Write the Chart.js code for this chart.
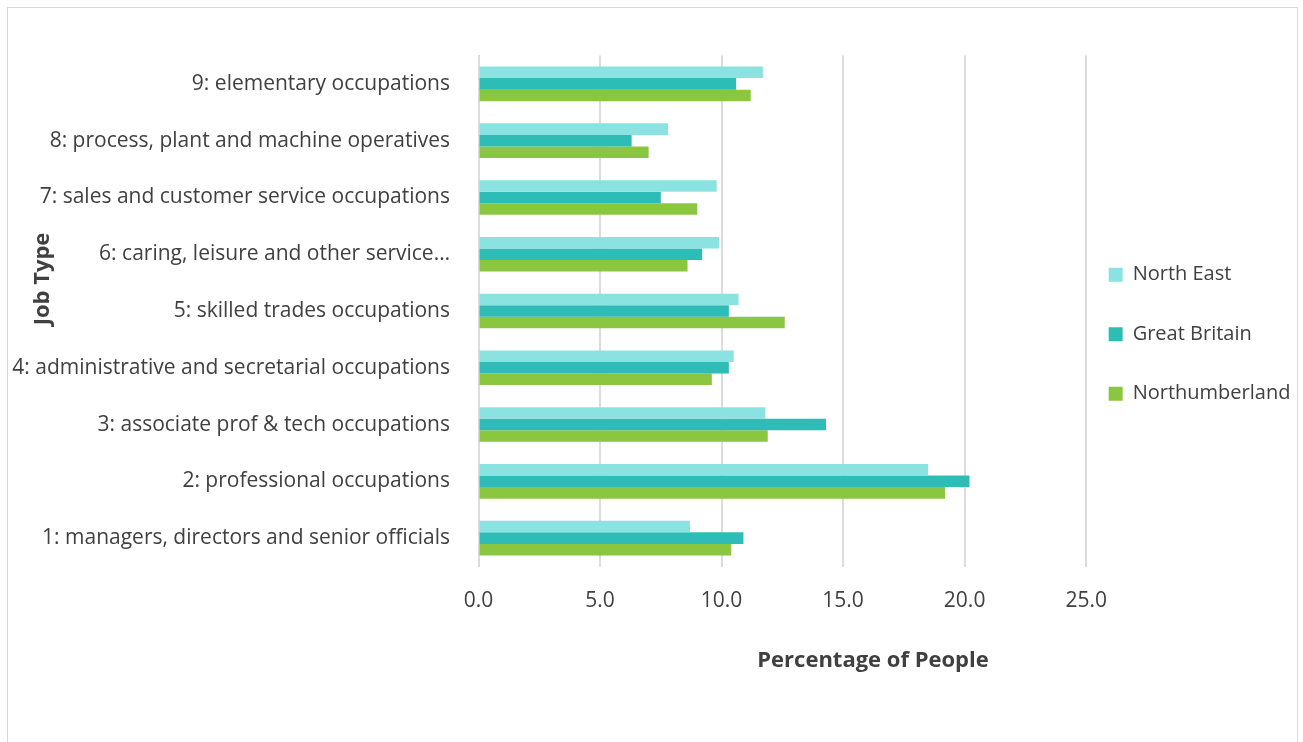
<!DOCTYPE html>
<html lang="en">
<head>
    <meta charset="UTF-8">
    <title>Job Type by Area</title>
    <script src="https://cdn.jsdelivr.net/npm/chart.js"></script>
    <style>
        body {
            margin: 0;
            background: #ffffff;
        }
        #frame {
            position: absolute;
            left: 7px;
            top: 7px;
            width: 1289px;
            height: 760px;
            border: 1px solid #d9d9d9;
        }
        #chartBox {
            position: absolute;
            left: 0;
            top: 0;
            width: 1289px;
            height: 734px;
        }
    </style>
</head>
<body>
<div id="frame">
    <div id="chartBox"><canvas id="jobChart"></canvas></div>
</div>

<script>
    // categories, bottom (1) to top (9)
    const jobTypes = [
        '1: managers, directors and senior officials',
        '2: professional occupations',
        '3: associate prof & tech occupations',
        '4: administrative and secretarial occupations',
        '5: skilled trades occupations',
        '6: caring, leisure and other service…',
        '7: sales and customer service occupations',
        '8: process, plant and machine operatives',
        '9: elementary occupations'
    ];

    // percentage of people, same order as jobTypes
    const northEast     = [8.7, 18.5, 11.8, 10.5, 10.7, 9.9, 9.8, 7.8, 11.7];
    const greatBritain  = [10.9, 20.2, 14.3, 10.3, 10.3, 9.2, 7.5, 6.3, 10.6];
    const northumberland = [10.4, 19.2, 11.9, 9.6, 12.6, 8.6, 9.0, 7.0, 11.2];

    const xTicks = [0, 5, 10, 15, 20, 25];

    const textColor = '#404040';
    const fontName = '"Open Sans", sans-serif';

    // axis titles sit off-centre in the original, so draw them by hand
    const axisTitles = {
        id: 'axisTitles',
        afterDraw(chart) {
            const ctx = chart.ctx;
            ctx.save();
            ctx.fillStyle = textColor;
            ctx.font = 'bold 22px ' + fontName;
            ctx.textAlign = 'center';
            ctx.textBaseline = 'middle';
            ctx.fillText('Percentage of People', 865, 653);
            ctx.translate(35, 271);
            ctx.rotate(-Math.PI / 2);
            ctx.fillText('Job Type', 0, 0);
            ctx.restore();
        }
    };

    // pull the legend a little closer to the plot
    const legendShift = {
        id: 'legendShift',
        afterLayout(chart) {
            chart.legend.left -= 17;
            chart.legend.right -= 17;
        }
    };

    const ctx = document.getElementById('jobChart').getContext('2d');
    new Chart(ctx, {
        type: 'bar',
        data: {
            labels: jobTypes,
            datasets: [{
                label: 'North East',
                data: northEast,
                backgroundColor: '#8ae3e0'
            }, {
                label: 'Great Britain',
                data: greatBritain,
                backgroundColor: '#2ebcb7'
            }, {
                label: 'Northumberland',
                data: northumberland,
                backgroundColor: '#8bc641'
            }]
        },
        options: {
            indexAxis: 'y',
            responsive: true,
            maintainAspectRatio: false,
            animation: false,
            categoryPercentage: 0.61,
            barPercentage: 1.0,
            layout: {
                padding: {top: 47.5, bottom: 129, left: 0, right: -20.4}
            },
            plugins: {
                legend: {
                    position: 'right',
                    labels: {
                        boxWidth: 14,
                        boxHeight: 14,
                        padding: 39.5,
                        color: textColor,
                        font: {family: fontName, size: 20}
                    }
                },
                tooltip: {enabled: false}
            },
            scales: {
                x: {
                    min: 0,
                    max: 25,
                    afterBuildTicks: (scale) => {
                        scale.ticks = xTicks.map(v => ({value: v}));
                    },
                    afterFit: (scale) => {
                        scale.height = 46.5;
                    },
                    grid: {
                        color: '#dcdcdc',
                        lineWidth: 2,
                        drawTicks: false
                    },
                    border: {display: false},
                    ticks: {
                        padding: 22,
                        color: textColor,
                        font: {family: fontName, size: 21},
                        callback: (v) => Number(v).toFixed(1)
                    }
                },
                y: {
                    reverse: true,
                    afterFit: (scale) => {
                        scale.width = 470.5;
                    },
                    grid: {display: false, drawTicks: false},
                    border: {display: true, color: '#dcdcdc', width: 2},
                    ticks: {
                        padding: 28.5,
                        color: textColor,
                        font: {family: fontName, size: 21}
                    }
                }
            }
        },
        plugins: [axisTitles, legendShift]
    });
</script>
</body>
</html>
